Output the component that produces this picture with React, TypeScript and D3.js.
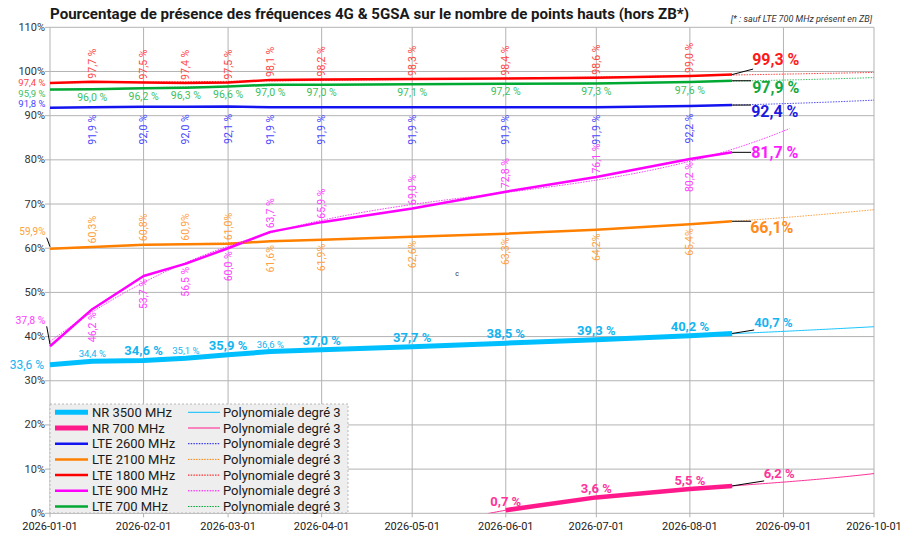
import React from "react";
import * as d3 from "d3";

// ---------- DATA ----------
const dates = [
  "2026-01-01", "2026-01-15", "2026-02-01", "2026-02-15", "2026-03-01", "2026-03-15",
  "2026-04-01", "2026-05-01", "2026-06-01", "2026-07-01", "2026-08-01", "2026-08-15",
];
const nr3500 = [33.6, 34.4, 34.6, 35.1, 35.9, 36.6, 37.0, 37.7, 38.5, 39.3, 40.2, 40.7];
const nr700: (number | null)[] = [null, null, null, null, null, null, null, null, 0.7, 3.6, 5.5, 6.2];
const lte2600 = [91.8, 91.9, 92.0, 92.0, 92.1, 91.9, 91.9, 91.9, 91.9, 91.9, 92.2, 92.4];
const lte2100 = [59.9, 60.3, 60.8, 60.9, 61.0, 61.6, 61.9, 62.6, 63.3, 64.2, 65.4, 66.1];
const lte1800 = [97.4, 97.7, 97.5, 97.4, 97.5, 98.1, 98.2, 98.3, 98.4, 98.6, 99.0, 99.3];
const lte900 = [37.8, 46.2, 53.7, 56.5, 60.0, 63.7, 65.9, 69.0, 72.8, 76.1, 80.2, 81.7];
const lte700 = [95.9, 96.0, 96.2, 96.3, 96.6, 97.0, 97.0, 97.1, 97.2, 97.3, 97.6, 97.9];

const seriesNames = ["NR 3500 MHz", "NR 700 MHz", "LTE 2600 MHz", "LTE 2100 MHz", "LTE 1800 MHz", "LTE 900 MHz", "LTE 700 MHz"];
const trendName = "Polynomiale degré 3";
const yTicks = [0, 10, 20, 30, 40, 50, 60, 70, 80, 90, 100, 110];
const xStart = "2026-01-01";
const xEnd = "2026-10-01";
const titleText = "Pourcentage de présence des fréquences 4G & 5GSA sur le nombre de points hauts (hors ZB*)";
const noteText = "[* : sauf LTE 700 MHz présent en ZB]";

// label placement (a = above, b = below) for rotated labels
const place2100 = ["", "a", "a", "a", "a", "b", "b", "b", "b", "b", "b", ""];
const place900 = ["", "b", "b", "b", "b", "a", "a", "a", "a", "a", "b", ""];

// ---------- GEOMETRY ----------
const W = 914, H = 547;
const L = 50, R = 874, T = 27.3, B = 513.3;
const FONT = "Roboto, 'Noto Sans', 'DejaVu Sans', sans-serif";

const parse = (s: string) => new Date(s + "T00:00:00Z");
const x = d3.scaleUtc().domain([parse(xStart), parse(xEnd)]).range([L, R]);
const y = d3.scaleLinear().domain([0, 110]).range([B, T]);
const fmtDate = d3.utcFormat("%Y-%m-%d");
const months = d3.utcMonth.range(parse(xStart), new Date(parse(xEnd).getTime() + 86400000));
const fmt = (v: number, sp = true) => v.toFixed(1).replace(".", ",") + (sp ? " %" : "%");

// cubic least squares fit
function cubicFit(xs: number[], ys: number[]) {
  const n = 4;
  const A = Array.from({ length: n }, () => new Array(n + 1).fill(0));
  xs.forEach((xv, k) => {
    const p = [1, xv, xv * xv, xv * xv * xv];
    for (let i = 0; i < n; i++) {
      for (let j = 0; j < n; j++) A[i][j] += p[i] * p[j];
      A[i][n] += p[i] * ys[k];
    }
  });
  for (let c = 0; c < n; c++) {
    let piv = c;
    for (let r = c + 1; r < n; r++) if (Math.abs(A[r][c]) > Math.abs(A[piv][c])) piv = r;
    [A[c], A[piv]] = [A[piv], A[c]];
    for (let r = 0; r < n; r++) {
      if (r === c) continue;
      const f = A[r][c] / A[c][c];
      for (let k = c; k <= n; k++) A[r][k] -= f * A[c][k];
    }
  }
  const coef = A.map((row, i) => row[n] / row[i]);
  return (t: number) => coef[0] + coef[1] * t + coef[2] * t * t + coef[3] * t * t * t;
}

type Series = {
  name: string;
  values: (number | null)[];
  color: string;
  labelColor: string;
  endColor: string;
  width: number;
  dotted: boolean;
  trendFrom?: string;
  trendTo: string;
};

const series: Series[] = [
  { name: seriesNames[0], values: nr3500, color: "#00bfff", labelColor: "#14b4f0", endColor: "#14b4f0", width: 5, dotted: false, trendTo: xEnd },
  { name: seriesNames[1], values: nr700, color: "#ff1a8c", labelColor: "#ff3399", endColor: "#ff3399", width: 4.5, dotted: false, trendFrom: "2026-05-26", trendTo: xEnd },
  { name: seriesNames[2], values: lte2600, color: "#1414f0", labelColor: "#4646ff", endColor: "#1a1ae0", width: 2.5, dotted: true, trendTo: xEnd },
  { name: seriesNames[3], values: lte2100, color: "#ff8000", labelColor: "#ff9f40", endColor: "#ff8c1a", width: 2.5, dotted: true, trendTo: xEnd },
  { name: seriesNames[4], values: lte1800, color: "#ff0000", labelColor: "#ff4545", endColor: "#ff1a1a", width: 2.5, dotted: true, trendTo: xEnd },
  { name: seriesNames[5], values: lte900, color: "#ff00ff", labelColor: "#ff40ff", endColor: "#ff1aff", width: 2.5, dotted: true, trendTo: "2026-09-03" },
  { name: seriesNames[6], values: lte700, color: "#00a933", labelColor: "#3cc060", endColor: "#14a83c", width: 2.5, dotted: true, trendTo: xEnd },
];

function pts(s: Series) {
  return dates
    .map((d, i) => ({ d: parse(d), v: s.values[i], i }))
    .filter((p) => p.v !== null) as { d: Date; v: number; i: number }[];
}

function trendPath(s: Series) {
  const p = pts(s);
  const t0 = parse(xStart).getTime();
  const toT = (d: Date) => (d.getTime() - t0) / (86400000 * 100);
  const f = cubicFit(p.map((q) => toT(q.d)), p.map((q) => q.v));
  const from = s.trendFrom ? parse(s.trendFrom) : p[0].d;
  const to = parse(s.trendTo);
  const days = d3.utcDay.range(from, new Date(to.getTime() + 1));
  const line = d3.line<Date>().x((d) => x(d)).y((d) => y(f(toT(d))));
  return line(days) || "";
}

const dataLine = d3.line<{ d: Date; v: number }>().x((p) => x(p.d)).y((p) => y(p.v));

function RotLabel({ px, py, text, color, above, gap }: { px: number; py: number; text: string; color: string; above: boolean; gap: number }) {
  const yy = above ? py - gap : py + gap;
  return (
    <text
      transform={`translate(${px},${yy}) rotate(-90)`}
      textAnchor={above ? "start" : "end"}
      dominantBaseline="central"
      fontSize={10.5}
      fill={color}
      fontFamily={FONT}
    >
      {text}
    </text>
  );
}

function labels() {
  const out: React.ReactNode[] = [];
  const [sNr35, sNr7, s26, s21, s18, s9, s7] = series;
  pts(sNr35).forEach((p, k, arr) => {
    if (k === 0 || k === arr.length - 1) return;
    const small = p.i === 1 || p.i === 3 || p.i === 5;
    out.push(
      <text key={"n35" + k} x={x(p.d)} y={y(p.v) - (small ? 4 : 5)} textAnchor="middle" fontSize={small ? 9.5 : 13} fontWeight={small ? 400 : 700} fill={sNr35.labelColor} fontFamily={FONT}>
        {fmt(p.v)}
      </text>
    );
  });
  pts(sNr7).forEach((p, k, arr) => {
    if (k === arr.length - 1) return;
    out.push(
      <text key={"n7" + k} x={x(p.d)} y={y(p.v) - 4} textAnchor="middle" fontSize={13} fontWeight={700} fill={sNr7.labelColor} fontFamily={FONT}>
        {fmt(p.v)}
      </text>
    );
  });
  pts(s7).forEach((p, k, arr) => {
    if (k === 0 || k === arr.length - 1) return;
    out.push(
      <text key={"l7" + k} x={x(p.d)} y={y(p.v) + 11.5} textAnchor="middle" fontSize={10.5} fill={s7.labelColor} fontFamily={FONT}>
        {fmt(p.v)}
      </text>
    );
  });
  const rot = (s: Series, key: string, placeFn: (i: number) => boolean, sp: boolean, gapA: number, gapB: number) => {
    pts(s).forEach((p, k, arr) => {
      if (k === 0 || k === arr.length - 1) return;
      const above = placeFn(p.i);
      out.push(<RotLabel key={key + k} px={x(p.d)} py={y(p.v)} text={fmt(p.v, sp)} color={s.labelColor} above={above} gap={above ? gapA : gapB} />);
    });
  };
  rot(s18, "l18", () => true, true, 3, 5);
  rot(s26, "l26", () => false, true, 3, 7.5);
  rot(s21, "l21", (i) => place2100[i] === "a", false, 3.5, 4);
  rot(s9, "l9", (i) => place900[i] === "a", true, 3.5, 3);
  return out;
}

// start labels (left of axis)
const startLabels = [
  { s: 4, dy: -0.5, size: 9.5, sp: true, leader: false },
  { s: 6, dy: 3.5, size: 9.5, sp: true, leader: false },
  { s: 2, dy: -4, size: 9.5, sp: true, leader: false },
  { s: 3, dy: -17, size: 10, sp: false, leader: true },
  { s: 5, dy: -26, size: 10.5, sp: true, leader: true },
  { s: 0, dy: 0, size: 12, sp: true, leader: false },
];

// end labels: leader end offset and label position relative to last point
const endLabels = [
  { s: 4, lx: 21, ly: -5.5, tx: 20, ty: -9.6, size: 16, sp: true, anchor: "start" },
  { s: 6, lx: 19, ly: 0, tx: 20, ty: 12.7, size: 16, sp: true, anchor: "start" },
  { s: 2, lx: 19, ly: 0, tx: 19, ty: 12, size: 16, sp: true, anchor: "start" },
  { s: 5, lx: 19, ly: 0, tx: 19, ty: 5.8, size: 16, sp: true, anchor: "start" },
  { s: 3, lx: 19, ly: 0, tx: 18, ty: 11.5, size: 16, sp: false, anchor: "start" },
  { s: 0, lx: 22, ly: -3.5, tx: 22, ty: -6.5, size: 13, sp: true, anchor: "start" },
  { s: 1, lx: 32, ly: -5, tx: 47, ty: -8, size: 13, sp: true, anchor: "middle" },
];

export default function App() {
  const grid = "#b3b3b3";
  return (
    <svg width={W} height={H} style={{ position: "absolute", left: 0, top: 0, background: "#fff" }} fontFamily={FONT}>
      <defs>
        <clipPath id="plot">
          <rect x={L} y={T} width={R - L} height={B - T} />
        </clipPath>
      </defs>
      <text x={L} y={19} fontSize={15.1} fontWeight={700} fill="#1a1a1a">{titleText}</text>
      <text x={872} y={22} fontSize={9} fontStyle="italic" textAnchor="end" fill="#333">{noteText}</text>

      {yTicks.map((v) => (
        <g key={"y" + v}>
          <line x1={L - 5} x2={R} y1={y(v)} y2={y(v)} stroke={grid} strokeWidth={1} />
          <text x={45} y={y(v)} textAnchor="end" dominantBaseline="central" fontSize={11} fill="#333">{`${v}%`}</text>
        </g>
      ))}
      {months.map((m) => (
        <g key={"x" + m.getTime()}>
          <line x1={x(m)} x2={x(m)} y1={T} y2={B + 4} stroke={grid} strokeWidth={1} />
          <text x={x(m)} y={530} textAnchor="middle" fontSize={11} fill="#222">{fmtDate(m)}</text>
        </g>
      ))}

      {series.map((s) => (
        <path key={"d" + s.name} d={dataLine(pts(s)) || ""} fill="none" stroke={s.color} strokeWidth={s.width} strokeLinejoin="round" />
      ))}
      <g clipPath="url(#plot)">
        {series.map((s) => (
          <path
            key={"t" + s.name}
            d={trendPath(s)}
            fill="none"
            stroke={s.color}
            strokeWidth={1}
            strokeOpacity={s.dotted ? 0.75 : 0.9}
            strokeDasharray={s.dotted ? "1.5,1.2" : undefined}
          />
        ))}
      </g>

      {labels()}
      {startLabels.map((sl, k) => {
        const s = series[sl.s];
        const p = pts(s)[0];
        const py = y(p.v);
        return (
          <g key={"sl" + k}>
            {sl.leader && <line x1={L} y1={py - 2} x2={L - 3.3} y2={py + sl.dy + 6} stroke="#000" strokeWidth={1} />}
            <text x={sl.s === 0 ? 44 : 45.5} y={py + sl.dy} textAnchor="end" dominantBaseline="central" fontSize={sl.size} fill={s.labelColor}>
              {fmt(p.v, sl.sp)}
            </text>
          </g>
        );
      })}
      {endLabels.map((el, k) => {
        const s = series[el.s];
        const arr = pts(s);
        const p = arr[arr.length - 1];
        const px = x(p.d), py = y(p.v);
        return (
          <g key={"el" + k}>
            <line x1={px} y1={py} x2={px + el.lx} y2={py + el.ly} stroke="#000" strokeWidth={1} />
            <text x={px + el.tx} y={py + el.ty} textAnchor={el.anchor as any} fontSize={el.size} fontWeight={700} fill={s.endColor}>
              {fmt(p.v, el.sp)}
            </text>
          </g>
        );
      })}
      <text x={457} y={276} fontSize={7} fill="#334" textAnchor="middle">c</text>

      <g>
        <rect x={L} y={404} width={298} height={109} fill="#eeeeee" stroke="#b8b8b8" strokeDasharray="2,2" strokeWidth={1} />
        {series.map((s, i) => {
          const ry = 412.3 + i * 15.7;
          return (
            <g key={"lg" + i}>
              <line x1={55} x2={88} y1={ry} y2={ry} stroke={s.color} strokeWidth={s.width === 2.5 ? 2.5 : 5} />
              <text x={92} y={ry} dominantBaseline="central" fontSize={13} fill="#1a1a1a">{s.name}</text>
              <line x1={188} x2={220} y1={ry} y2={ry} stroke={s.color} strokeWidth={1} strokeDasharray={s.dotted ? "1.5,1.2" : undefined} />
              <text x={223} y={ry} dominantBaseline="central" fontSize={13} fill="#1a1a1a">{trendName}</text>
            </g>
          );
        })}
      </g>
    </svg>
  );
}
